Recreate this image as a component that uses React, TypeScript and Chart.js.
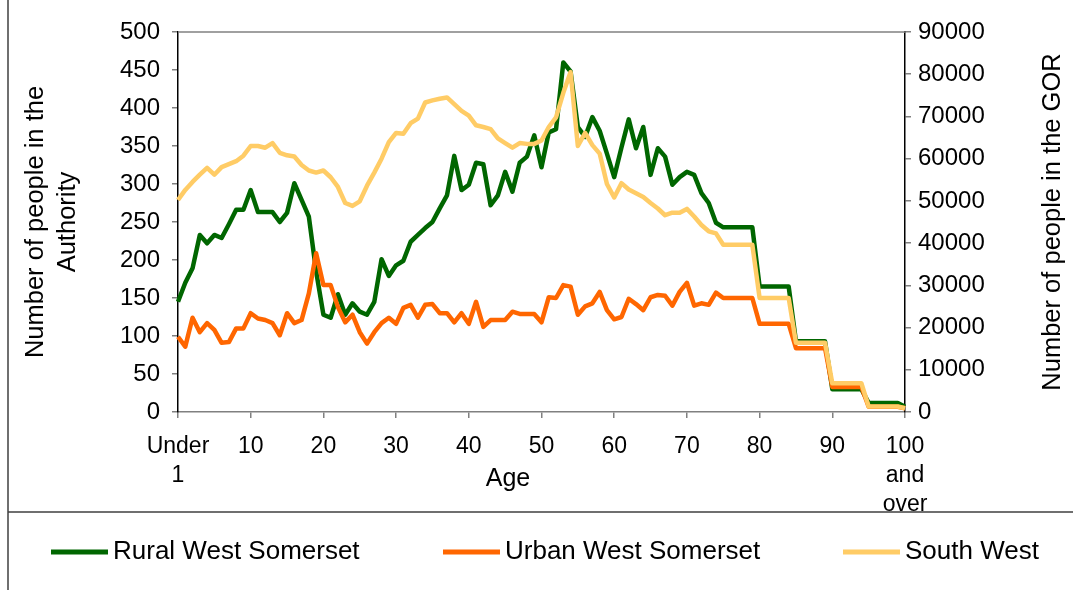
import React, { useEffect, useRef } from "react";
import { Chart, registerables } from "chart.js";

Chart.register(...registerables);

const FONT = "'Liberation Sans', Arial, sans-serif";

const ages: number[] = Array.from({ length: 101 }, (_, i) => i);

const xTickLabels: (string | string[])[] = [
  ["Under", "1"], "10", "20", "30", "40", "50", "60", "70", "80", "90", ["100", "and", "over"],
];

const rural: number[] = [
  145, 170, 189, 233, 222, 233, 229, 247, 266, 266,
  292, 263, 263, 263, 250, 262, 301, 279, 257, 185,
  128, 124, 155, 128, 143, 132, 128, 145, 201, 179,
  193, 199, 224, 233, 242, 250, 268, 285, 337, 292,
  299, 328, 326, 272, 285, 316, 290, 328, 336, 364,
  322, 368, 372, 460, 448, 375, 362, 388, 370, 340,
  309, 348, 385, 347, 375, 312, 347, 336, 299, 309,
  316, 312, 288, 275, 249, 243, 243, 243, 243, 243,
  165, 165, 165, 165, 165, 93, 93, 93, 93, 93,
  30, 30, 30, 30, 30, 12, 12, 12, 12, 12,
  7,
];

const urban: number[] = [
  99, 86, 124, 105, 117, 108, 91, 92, 110, 110,
  130, 123, 121, 117, 101, 130, 117, 121, 156, 209,
  167, 167, 138, 118, 128, 105, 90, 105, 117, 124,
  116, 137, 141, 124, 141, 142, 130, 130, 118, 130,
  116, 145, 112, 121, 121, 121, 132, 129, 129, 129,
  118, 151, 150, 167, 165, 128, 139, 143, 158, 134,
  122, 125, 149, 142, 134, 151, 154, 153, 140, 158,
  170, 140, 143, 141, 157, 150, 150, 150, 150, 150,
  116, 116, 116, 116, 116, 84, 84, 84, 84, 84,
  33, 33, 33, 33, 33, 7, 7, 7, 7, 7,
  5,
];

const southWest: number[] = [
  50200, 52600, 54500, 56200, 57800, 56200, 58000, 58700, 59400, 60700,
  63000, 63000, 62600, 63700, 61400, 60800, 60500, 58500, 57200, 56700,
  57200, 55600, 53300, 49500, 48800, 49900, 53600, 56700, 60000, 63900,
  66100, 65900, 68400, 69500, 73300, 73800, 74200, 74500, 72900, 71300,
  70200, 67900, 67500, 67000, 64800, 63700, 62600, 63700, 63500, 63500,
  64300, 67500, 69800, 75600, 80500, 63000, 66100, 63200, 61200, 54000,
  50800, 54200, 52700, 51800, 50900, 49500, 48200, 46600, 47200, 47200,
  48100, 46300, 44300, 42800, 42300, 39600, 39600, 39600, 39600, 39600,
  27000, 27000, 27000, 27000, 27000, 16400, 16400, 16400, 16400, 16400,
  6800, 6800, 6800, 6800, 6800, 1300, 1300, 1300, 1300, 1300,
  900,
];

const seriesNames = ["Rural West Somerset", "Urban West Somerset", "South West"];
const seriesColors = ["#006600", "#FF6600", "#FFCC66"];

const leftTitle = ["Number of people in the", "Authority"];
const rightTitle = "Number of people in the GOR";
const xTitle = "Age";

const decorPlugin = {
  id: "decor",
  afterDraw(chart: any) {
    const { ctx, chartArea } = chart;
    ctx.save();
    // plot-area top border
    ctx.strokeStyle = "#808080";
    ctx.lineWidth = 1.5;
    ctx.beginPath();
    ctx.moveTo(chartArea.left, chartArea.top);
    ctx.lineTo(chartArea.right, chartArea.top);
    ctx.stroke();

    // outer frame + legend separator
    ctx.strokeStyle = "#404040";
    ctx.lineWidth = 1.5;
    ctx.beginPath();
    ctx.moveTo(8, 0);
    ctx.lineTo(8, 590);
    ctx.moveTo(8, 512);
    ctx.lineTo(1073, 512);
    ctx.stroke();

    // axis titles
    ctx.fillStyle = "#000";
    ctx.font = `25.5px ${FONT}`;
    ctx.textAlign = "center";
    ctx.textBaseline = "middle";
    const cy = (chartArea.top + chartArea.bottom) / 2;
    const lx = [36, 68];
    leftTitle.forEach((t, i) => {
      ctx.save();
      ctx.translate(lx[i], cy);
      ctx.rotate(-Math.PI / 2);
      ctx.fillText(t, 0, 0);
      ctx.restore();
    });
    ctx.save();
    ctx.translate(1053, cy);
    ctx.rotate(-Math.PI / 2);
    ctx.fillText(rightTitle, 0, 0);
    ctx.restore();
    ctx.font = `25px ${FONT}`;
    ctx.fillText(xTitle, 508, 479);

    // legend
    const ly = 552;
    const starts = [51, 443, 843];
    ctx.font = `26px ${FONT}`;
    ctx.textAlign = "left";
    seriesNames.forEach((name, i) => {
      const x0 = starts[i];
      ctx.strokeStyle = seriesColors[i];
      ctx.lineWidth = 5;
      ctx.beginPath();
      ctx.moveTo(x0, ly);
      ctx.lineTo(x0 + 57, ly);
      ctx.stroke();
      ctx.fillStyle = "#000";
      ctx.fillText(name, x0 + 62, ly);
    });
    ctx.restore();
  },
};

export default function App() {
  const ref = useRef<HTMLCanvasElement>(null);
  useEffect(() => {
    const chart = new Chart(ref.current!, {
      type: "line",
      data: {
        labels: ages,
        datasets: [
          { label: seriesNames[0], data: rural, borderColor: seriesColors[0], yAxisID: "y", order: 3 },
          { label: seriesNames[1], data: urban, borderColor: seriesColors[1], yAxisID: "y", order: 2 },
          { label: seriesNames[2], data: southWest, borderColor: seriesColors[2], yAxisID: "y2", order: 1 },
        ].map((d) => ({
          ...d,
          borderWidth: 4.5,
          pointRadius: 0,
          tension: 0,
          fill: false,
          borderJoinStyle: "round" as const,
        })),
      },
      options: {
        responsive: false,
        animation: false,
        layout: { padding: { top: 32, left: 0, right: 0, bottom: 0 } },
        plugins: { legend: { display: false }, tooltip: { enabled: false } },
        scales: {
          x: {
            type: "category",
            offset: false,
            afterFit: (s: any) => { s.height = 178; },
            grid: { drawOnChartArea: false, tickLength: 6, color: "#808080", lineWidth: 1.5 },
            border: { color: "#808080", width: 1.5 },
            ticks: {
              autoSkip: false,
              maxRotation: 0,
              minRotation: 0,
              padding: 14,
              color: "#000",
              font: { family: FONT, size: 23, lineHeight: 1.26 },
              callback: (_v: any, i: number) => (i % 10 === 0 ? xTickLabels[i / 10] : null),
            },
          },
          y: {
            position: "left",
            min: 0,
            max: 500,
            afterFit: (s: any) => { s.width = 178; },
            grid: { drawOnChartArea: false, tickLength: 6, color: "#808080", lineWidth: 1.5 },
            border: { color: "#000", width: 1.5 },
            ticks: {
              stepSize: 50,
              padding: 12,
              color: "#000",
              font: { family: FONT, size: 24 },
              callback: (v: any) => String(v),
            },
          },
          y2: {
            position: "right",
            min: 0,
            max: 90000,
            afterFit: (s: any) => { s.width = 168; },
            grid: { drawOnChartArea: false, tickLength: 6, color: "#808080", lineWidth: 1.5 },
            border: { color: "#000", width: 1.5 },
            ticks: {
              stepSize: 10000,
              padding: 7,
              color: "#000",
              font: { family: FONT, size: 24 },
              callback: (v: any) => String(v),
            },
          },
        },
      },
      plugins: [decorPlugin],
    } as any);
    return () => chart.destroy();
  }, []);
  return (
    <div style={{ position: "fixed", left: 0, top: 0, width: 1073, height: 590, background: "#fff" }}>
      <canvas ref={ref} width={1073} height={590} style={{ display: "block" }} />
    </div>
  );
}
